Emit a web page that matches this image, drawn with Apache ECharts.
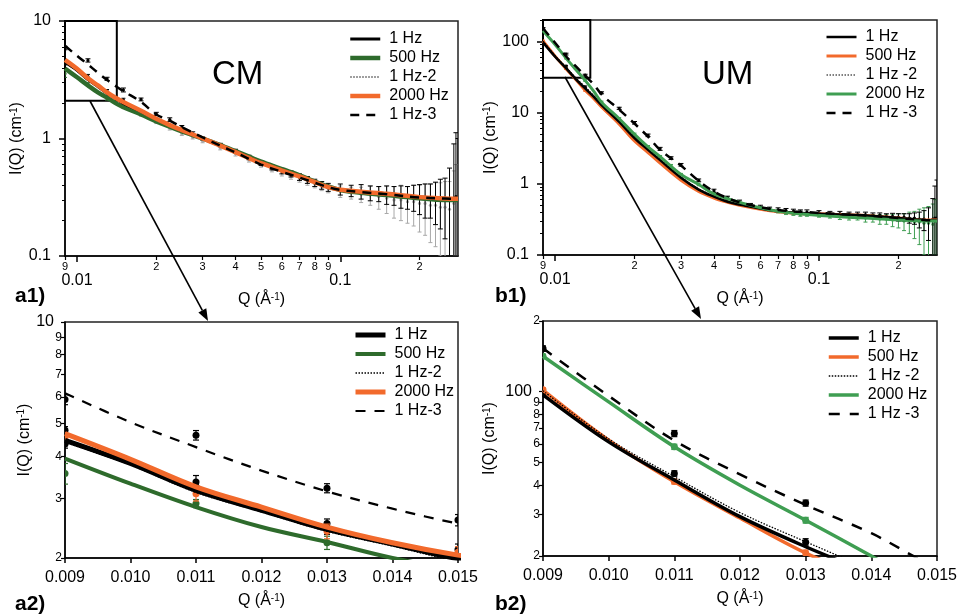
<!DOCTYPE html>
<html><head><meta charset="utf-8">
<script src="https://cdn.jsdelivr.net/npm/echarts@6/dist/echarts.min.js"></script>
<style>html,body{margin:0;padding:0;background:#fff}#c{width:959px;height:615px}</style>
</head><body><div id="c"></div>
<script>
// ---------------- DATA ----------------
// Q grid of the fitted curves (1/Å)
const fitQ = [0.009, 0.01, 0.011, 0.012, 0.013, 0.014, 0.015, 0.0175, 0.02, 0.0225, 0.025, 0.03, 0.035, 0.04, 0.045, 0.05, 0.06, 0.07, 0.08, 0.09, 0.1, 0.12, 0.15, 0.2, 0.25, 0.28];
// CM fits
const cmFit1Hz   = [4.46, 3.81, 3.17, 2.77, 2.43, 2.2, 1.99, 1.7, 1.46, 1.3, 1.17, 1.0, 0.875, 0.77, 0.685, 0.62, 0.535, 0.475, 0.425, 0.385, 0.367, 0.352, 0.338, 0.318, 0.31, 0.307];
const cmFit500   = [3.94, 3.32, 2.83, 2.47, 2.23, 2.0, 1.85, 1.6, 1.4, 1.26, 1.15, 1.0, 0.88, 0.78, 0.7, 0.635, 0.55, 0.485, 0.43, 0.39, 0.365, 0.345, 0.33, 0.31, 0.3, 0.3];
const cmFit1Hz2  = [4.40, 3.77, 3.13, 2.74, 2.40, 2.17, 1.96, 1.68, 1.45, 1.29, 1.16, 0.99, 0.87, 0.765, 0.68, 0.615, 0.53, 0.47, 0.42, 0.383, 0.365, 0.35, 0.336, 0.316, 0.308, 0.306];
const cmFit2000  = [4.67, 3.92, 3.25, 2.83, 2.47, 2.22, 2.04, 1.72, 1.47, 1.3, 1.18, 1.0, 0.87, 0.765, 0.68, 0.616, 0.534, 0.475, 0.425, 0.385, 0.366, 0.352, 0.338, 0.317, 0.309, 0.307];
const cmFit1Hz3  = [6.15, 5.05, 4.26, 3.63, 3.15, 2.8, 2.53, 2.05, 1.6, 1.42, 1.25, 1.02, 0.87, 0.76, 0.67, 0.6, 0.52, 0.465, 0.42, 0.385, 0.365, 0.35, 0.335, 0.315, 0.308, 0.305];
// UM fits
const umFit1Hz   = [97, 61.2, 42.1, 29.4, 21.9, 16.8, 12.8, 7.4, 4.4, 3.0, 2.15, 1.22, 0.83, 0.66, 0.56, 0.51, 0.45, 0.41, 0.395, 0.385, 0.38, 0.37, 0.36, 0.33, 0.31, 0.305];
const umFit500   = [101.5, 62.2, 41.4, 29.0, 20.6, 15.8, 12.0, 6.9, 4.0, 2.75, 1.95, 1.12, 0.78, 0.63, 0.55, 0.5, 0.44, 0.405, 0.39, 0.38, 0.38, 0.37, 0.36, 0.33, 0.31, 0.31];
const umFit1Hz2  = [101, 63, 43.5, 30.6, 23, 17.5, 13.5, 7.8, 4.6, 3.1, 2.22, 1.25, 0.85, 0.67, 0.57, 0.51, 0.45, 0.41, 0.395, 0.385, 0.38, 0.37, 0.36, 0.33, 0.31, 0.305];
const umFit2000  = [141.6, 90.5, 58.3, 40, 28.4, 20, 14, 8.2, 4.95, 3.3, 2.4, 1.35, 0.98, 0.72, 0.62, 0.55, 0.46, 0.41, 0.385, 0.37, 0.36, 0.345, 0.33, 0.31, 0.3, 0.3];
const umFit1Hz3  = [153, 96, 62, 44.5, 33, 25, 18, 11, 7.0, 4.6, 3.0, 1.8, 1.1, 0.78, 0.63, 0.55, 0.47, 0.43, 0.41, 0.4, 0.39, 0.375, 0.36, 0.33, 0.31, 0.305];

// measured points (full range) Q grid
const dataQ = [0.009, 0.011, 0.013, 0.015, 0.0175, 0.02, 0.0225, 0.025, 0.0275, 0.03, 0.035, 0.04, 0.045, 0.05, 0.055, 0.06, 0.065, 0.07, 0.075, 0.08, 0.085, 0.09, 0.1, 0.11, 0.12, 0.13, 0.14, 0.15, 0.16, 0.17, 0.18, 0.19, 0.2, 0.21, 0.22, 0.23, 0.24, 0.25, 0.26, 0.27, 0.275, 0.28];
const cmPts1Hz3  = [5.89, 4.62, 3.22, 2.59, 2.15, 1.62, 1.45, 1.25, 1.1, 1.0, 0.88, 0.78, 0.69, 0.62, 0.57, 0.53, 0.5, 0.47, 0.445, 0.42, 0.4, 0.385, 0.37, 0.36, 0.355, 0.345, 0.34, 0.335, 0.33, 0.325, 0.32, 0.32, 0.315, 0.31, 0.31, 0.305, 0.31, 0.3, 0.31, 0.3, 0.32, 0.3];
const cmErr1Hz3  = [0.2, 0.15, 0.1, 0.1, 0.06, 0.05, 0.05, 0.04, 0.04, 0.03, 0.03, 0.03, 0.03, 0.03, 0.03, 0.03, 0.03, 0.03, 0.03, 0.03, 0.03, 0.03, 0.04, 0.04, 0.05, 0.05, 0.05, 0.06, 0.06, 0.07, 0.07, 0.08, 0.09, 0.1, 0.1, 0.12, 0.14, 0.16, 0.25, 0.6, 0.8, 0.7];
const umPts1Hz3  = [152.7, 66.4, 33.6, 19, 11.5, 7.2, 4.8, 3.1, 2.3, 1.85, 1.12, 0.8, 0.64, 0.56, 0.5, 0.47, 0.44, 0.43, 0.42, 0.41, 0.4, 0.4, 0.39, 0.38, 0.38, 0.37, 0.37, 0.37, 0.36, 0.36, 0.35, 0.35, 0.34, 0.34, 0.33, 0.33, 0.32, 0.32, 0.31, 0.32, 0.33, 0.33];
const umErr1Hz3  = [4, 2, 1, 0.6, 0.4, 0.3, 0.2, 0.15, 0.1, 0.08, 0.05, 0.04, 0.03, 0.03, 0.03, 0.03, 0.03, 0.03, 0.03, 0.03, 0.03, 0.03, 0.03, 0.03, 0.03, 0.03, 0.03, 0.03, 0.03, 0.03, 0.03, 0.035, 0.04, 0.04, 0.05, 0.06, 0.08, 0.1, 0.15, 0.3, 0.6, 0.8];
const umPts2000  = [141.6, 58.3, 28.4, 14, 8.2, 4.95, 3.3, 2.4, 1.8, 1.35, 0.98, 0.72, 0.62, 0.55, 0.5, 0.46, 0.43, 0.41, 0.39, 0.38, 0.37, 0.37, 0.36, 0.35, 0.345, 0.34, 0.34, 0.33, 0.33, 0.32, 0.32, 0.31, 0.31, 0.3, 0.3, 0.29, 0.29, 0.28, 0.28, 0.27, 0.3, 0.3];
const umErr2000  = [3, 1.5, 0.8, 0.5, 0.3, 0.2, 0.15, 0.1, 0.07, 0.05, 0.04, 0.03, 0.03, 0.02, 0.02, 0.02, 0.02, 0.02, 0.02, 0.02, 0.02, 0.02, 0.02, 0.02, 0.03, 0.03, 0.03, 0.04, 0.04, 0.05, 0.05, 0.06, 0.07, 0.08, 0.1, 0.12, 0.15, 0.18, 0.2, 0.25, 0.3, 0.3];
// measured points CM "grey" set (high Q)
const hiQ = [0.0175, 0.02, 0.0225, 0.025, 0.0275, 0.03, 0.035, 0.04, 0.045, 0.05, 0.055, 0.06, 0.065, 0.07, 0.075, 0.08, 0.085, 0.09, 0.1, 0.11, 0.12, 0.13, 0.14, 0.15, 0.16, 0.17, 0.18, 0.19, 0.2, 0.21, 0.22, 0.23, 0.24, 0.25, 0.26, 0.27, 0.275, 0.28];
const cmPtsGrey  = [1.6, 1.38, 1.22, 1.1, 1.02, 0.95, 0.83, 0.74, 0.66, 0.6, 0.55, 0.51, 0.48, 0.455, 0.43, 0.41, 0.39, 0.375, 0.355, 0.345, 0.335, 0.33, 0.32, 0.31, 0.3, 0.3, 0.29, 0.29, 0.28, 0.28, 0.27, 0.27, 0.26, 0.26, 0.25, 0.28, 0.3, 0.3];
const cmErrGrey  = [0.05, 0.04, 0.04, 0.04, 0.03, 0.03, 0.03, 0.03, 0.03, 0.03, 0.03, 0.03, 0.03, 0.03, 0.03, 0.03, 0.03, 0.03, 0.04, 0.04, 0.05, 0.06, 0.07, 0.08, 0.09, 0.1, 0.1, 0.11, 0.12, 0.13, 0.14, 0.15, 0.16, 0.17, 0.18, 0.25, 0.3, 0.3];
// measured points at low Q
const lowQ = [0.009, 0.011, 0.013, 0.015];
const cmPts1Hz   = [4.35, 3.36, 2.53, 2.12];  const cmErr1Hz   = [0.12, 0.15, 0.08, 0.08];
const cmPts1Hz2  = [4.78, 3.25, 2.45, 2.05];  const cmErr1Hz2  = [0.12, 0.1, 0.1, 0.08];
const cmPts500   = [3.56, 2.9, 2.22, 1.9];    const cmErr500   = [0.25, 0.08, 0.1, 0.08];
const cmPts2000  = [4.55, 3.1, 2.4, 2.08];    const cmErr2000  = [0.15, 0.15, 0.12, 0.08];
const lowQ3 = [0.009, 0.011, 0.013];
const umPts1Hz   = [97, 44.9, 22.9];          const umErr1Hz   = [2, 1.2, 0.8];
const umPts500   = [102, 41.5, 20.6];         const umErr500   = [2, 1, 0.6];

// legends & ticks
const cmNames = ['1 Hz', '500 Hz', '1 Hz-2', '2000 Hz', '1 Hz-3'];
const umNames = ['1 Hz', '500 Hz', '1 Hz -2', '2000 Hz', '1 Hz -3'];
const xTopMinor = [0.009, 0.02, 0.03, 0.04, 0.05, 0.06, 0.07, 0.08, 0.09, 0.2];
const xTopMajor = [0.01, 0.1];
const yA1Major = [0.1, 1, 10];
const yB1Major = [0.1, 1, 10, 100];
const minorDec = [2, 3, 4, 5, 6, 7, 8, 9];
const yA2Ticks = [2, 3, 4, 5, 6, 7, 8, 9, 10];
const yB2Ticks = [20, 30, 40, 50, 60, 70, 80, 90, 100, 200];

// ---------------- STYLE ----------------
const FONT = '"Liberation Sans", Arial, sans-serif';
const BLACK = '#000000', GREEN_A = '#2e6b2c', ORANGE = '#f26a2c', GREEN_B = '#3f9e52', GREY = '#a8a8a8';

const chart = echarts.init(document.getElementById('c'), null, {renderer: 'canvas'});

const grids = [
  {left: 65, top: 21, width: 393, height: 235},
  {left: 543, top: 20, width: 394, height: 235},
  {left: 65, top: 322, width: 393, height: 236},
  {left: 543, top: 321, width: 394, height: 235}
].map(g => Object.assign({show: true, borderColor: '#222', borderWidth: 1.5, backgroundColor: 'transparent', containLabel: false, outerBoundsMode: 'none'}, g));

const mant = v => { const e = Math.floor(Math.log10(v) + 1e-9); return String(Math.round(v / Math.pow(10, e))); };
const fmtNum = v => String(+(+v).toPrecision(3));
const axLine = {show: true, onZero: false, lineStyle: {color: '#000', width: 1.5}};
const nameRich = {
  n: {fontSize: 16, fontFamily: FONT, color: '#000'},
  s: {fontSize: 10, fontFamily: FONT, color: '#000', verticalAlign: 'top', padding: [0, 0, 6, 0]}
};
const qName = '{n|Q (Å}{s|-1}{n|)}';
const iName = '{n|I(Q) (cm}{s|-1}{n|)}';

function topX(grid) {
  return [
    { type: 'log', gridIndex: grid, position: 'bottom', min: 0.009, max: 0.28, logBase: 10,
      axisLine: axLine, splitLine: {show: false},
      axisTick: {show: true, length: 4, customValues: xTopMinor, lineStyle: {color: '#000', width: 1.2}},
      axisLabel: {customValues: xTopMinor, formatter: mant, fontSize: 11, fontFamily: FONT, color: '#000', margin: 5} },
    { type: 'log', gridIndex: grid, position: 'bottom', min: 0.009, max: 0.28, logBase: 10,
      axisLine: {show: false}, splitLine: {show: false},
      axisTick: {show: true, length: 6, customValues: xTopMajor, lineStyle: {color: '#000', width: 1.5}},
      axisLabel: {customValues: xTopMajor, formatter: fmtNum, fontSize: 16, fontFamily: FONT, color: '#000', margin: 17},
      name: qName, nameLocation: 'middle', nameGap: 36, nameTextStyle: {rich: nameRich} }
  ];
}
function topY(grid, min, max, major, minor, gap) {
  return [
    { type: 'log', gridIndex: grid, position: 'left', min, max, logBase: 10,
      axisLine: axLine, splitLine: {show: false},
      axisTick: {show: true, length: 6, customValues: major, lineStyle: {color: '#000', width: 1.5}},
      axisLabel: {customValues: major, formatter: fmtNum, fontSize: 16, fontFamily: FONT, color: '#000', margin: 14},
      name: iName, nameLocation: 'middle', nameGap: gap, nameRotate: 90, nameTextStyle: {rich: nameRich} },
    { type: 'log', gridIndex: grid, position: 'left', min, max, logBase: 10,
      axisLine: {show: false}, splitLine: {show: false}, axisLabel: {show: false},
      axisTick: {show: true, length: 3, customValues: minor, lineStyle: {color: '#000', width: 1}} }
  ];
}
const minorA1 = [].concat(minorDec.map(d => d / 10), minorDec);
const minorB1 = [].concat(minorDec.map(d => d / 10), minorDec, minorDec.map(d => d * 10), [200]);

const zoomX = grid => ({
  type: 'value', gridIndex: grid, position: 'bottom', min: 0.009, max: 0.015, interval: 0.001,
  axisLine: axLine, splitLine: {show: false},
  axisTick: {show: true, length: 5, lineStyle: {color: '#000', width: 1.5}},
  axisLabel: {formatter: v => (+v).toFixed(3), fontSize: 16, fontFamily: FONT, color: '#000', margin: 12, showMinLabel: true, showMaxLabel: true},
  name: qName, nameLocation: 'middle', nameGap: 35, nameTextStyle: {rich: nameRich}
});
const zoomRich = {
  b: {fontSize: 16, fontFamily: FONT, color: '#000', padding: [0, 8, 0, 0]},
  s: {fontSize: 12, fontFamily: FONT, color: '#000'}
};
const zoomY = (grid, min, max, ticks, fmt, gap) => ({
  type: 'log', gridIndex: grid, position: 'left', min, max, logBase: 10,
  axisLine: axLine, splitLine: {show: false},
  axisTick: {show: true, length: 4, customValues: ticks, lineStyle: {color: '#000', width: 1.2}},
  axisLabel: {customValues: ticks, formatter: fmt, margin: 3, rich: zoomRich},
  name: iName, nameLocation: 'middle', nameGap: gap, nameRotate: 90, nameTextStyle: {rich: nameRich}
});

const xAxis = [].concat(topX(0), topX(1), [zoomX(2), zoomX(3)]);
const yAxis = [].concat(
  topY(0, 0.1, 10, yA1Major, minorA1, 36),
  topY(1, 0.1, 200, yB1Major, minorB1, 43),
  [zoomY(2, 2, 10, yA2Ticks, v => +v >= 10 ? '{b|10}' : '{s|' + Math.round(v) + '}', 22),
   zoomY(3, 20, 200, yB2Ticks, v => Math.round(v) === 100 ? '{b|100}' : '{s|' + mant(v) + '}', 45)]
);

// panel -> axis indices
const P = {a1: {x: 0, y: 0}, b1: {x: 2, y: 2}, a2: {x: 4, y: 4}, b2: {x: 5, y: 5}};
const pairs = (q, v) => q.map((x, i) => [x, v[i]]);
const triples = (q, v, e) => q.map((x, i) => [x, v[i], e[i]]);

function fit(panel, name, vals, color, width, type, z) {
  return {
    type: 'line', name: panel + '|' + name, xAxisIndex: P[panel].x, yAxisIndex: P[panel].y,
    data: pairs(fitQ, vals), smooth: 0.35, symbol: 'none', clip: true, z: z || 3,
    lineStyle: {color, width, type: type || 'solid', cap: 'butt'}, itemStyle: {color},
    emphasis: {disabled: true}, animation: false
  };
}
function pts(panel, q, vals, errs, color, r, cap, lw) {
  return {
    type: 'custom', xAxisIndex: P[panel].x, yAxisIndex: P[panel].y, clip: true, z: 2, silent: true,
    data: triples(q, vals, errs), encode: {x: 0, y: 1}, animation: false,
    renderItem: function (params, api) {
      const x = api.value(0), y = api.value(1), e = api.value(2);
      const lo = Math.max(y - e, y * 0.05);
      const p = api.coord([x, y]), ph = api.coord([x, y + e]), pl = api.coord([x, lo]);
      const st = {stroke: color, lineWidth: lw};
      return {type: 'group', children: [
        {type: 'line', shape: {x1: p[0], y1: ph[1], x2: p[0], y2: pl[1]}, style: st},
        {type: 'line', shape: {x1: p[0] - cap, y1: ph[1], x2: p[0] + cap, y2: ph[1]}, style: st},
        {type: 'line', shape: {x1: p[0] - cap, y1: pl[1], x2: p[0] + cap, y2: pl[1]}, style: st},
        {type: 'circle', shape: {cx: p[0], cy: p[1], r}, style: {fill: color}}
      ]};
    }
  };
}

const series = [];
// ---- CM top (a1)
series.push(pts('a1', hiQ, cmPtsGrey, cmErrGrey, GREY, 1.6, 2, 1));
series.push(pts('a1', dataQ, cmPts1Hz3, cmErr1Hz3, BLACK, 1.6, 2.5, 1));
series.push(pts('a1', lowQ, cmPts500, cmErr500, GREEN_A, 1.6, 2, 1));
series.push(pts('a1', lowQ, cmPts1Hz, cmErr1Hz, BLACK, 1.6, 2, 1));
series.push(fit('a1', '500 Hz', cmFit500, GREEN_A, 4.5));
series.push(fit('a1', '1 Hz-2', cmFit1Hz2, BLACK, 1.2, [1.5, 1.5]));
series.push(fit('a1', '1 Hz', cmFit1Hz, BLACK, 3));
series.push(fit('a1', '2000 Hz', cmFit2000, ORANGE, 4.5));
series.push(fit('a1', '1 Hz-3', cmFit1Hz3, BLACK, 2.5, [9, 7], 4));
series.push({
  type: 'line', xAxisIndex: 0, yAxisIndex: 0, data: [], silent: true,
  markArea: {silent: true, itemStyle: {color: 'rgba(0,0,0,0)', borderColor: '#000', borderWidth: 2},
    data: [[{coord: [0.009, 10]}, {coord: [0.01416, 2.1]}]]}
});
// ---- CM zoom (a2)
series.push(pts('a2', dataQ, cmPts1Hz3, cmErr1Hz3, BLACK, 3.5, 3, 1.2));
series.push(pts('a2', lowQ, cmPts500, cmErr500, GREEN_A, 3.5, 3, 1.2));
series.push(pts('a2', lowQ, cmPts1Hz2, cmErr1Hz2, BLACK, 3.5, 3, 1.2));
series.push(pts('a2', lowQ, cmPts1Hz, cmErr1Hz, BLACK, 3.5, 3, 1.2));
series.push(pts('a2', lowQ, cmPts2000, cmErr2000, ORANGE, 3.5, 3, 1.2));
series.push(fit('a2', '500 Hz', cmFit500, GREEN_A, 4));
series.push(fit('a2', '1 Hz-2', cmFit1Hz2, BLACK, 1.3, [1.5, 1.5]));
series.push(fit('a2', '1 Hz', cmFit1Hz, BLACK, 5));
series.push(fit('a2', '2000 Hz', cmFit2000, ORANGE, 5));
series.push(fit('a2', '1 Hz-3', cmFit1Hz3, BLACK, 2.2, [10, 9], 4));
// ---- UM top (b1)
series.push(pts('b1', dataQ, umPts2000, umErr2000, GREEN_B, 1.6, 2, 1));
series.push(pts('b1', dataQ, umPts1Hz3, umErr1Hz3, BLACK, 1.6, 2.5, 1));
series.push(pts('b1', lowQ3, umPts500, umErr500, ORANGE, 1.6, 2, 1));
series.push(pts('b1', lowQ3, umPts1Hz, umErr1Hz, BLACK, 1.6, 2, 1));
series.push(fit('b1', '500 Hz', umFit500, ORANGE, 3));
series.push(fit('b1', '1 Hz', umFit1Hz, BLACK, 2.5));
series.push(fit('b1', '1 Hz -2', umFit1Hz2, BLACK, 1.2, [1.5, 1.5]));
series.push(fit('b1', '2000 Hz', umFit2000, GREEN_B, 3));
series.push(fit('b1', '1 Hz -3', umFit1Hz3, BLACK, 2.5, [9, 7], 4));
series.push({
  type: 'line', xAxisIndex: 2, yAxisIndex: 2, data: [], silent: true,
  markArea: {silent: true, itemStyle: {color: 'rgba(0,0,0,0)', borderColor: '#000', borderWidth: 2},
    data: [[{coord: [0.009, 200]}, {coord: [0.0136, 31]}]]}
});
// ---- UM zoom (b2)
series.push(pts('b2', dataQ, umPts1Hz3, umErr1Hz3, BLACK, 3.5, 3, 1.2));
series.push(pts('b2', dataQ, umPts2000, umErr2000, GREEN_B, 3.5, 3, 1.2));
series.push(pts('b2', lowQ3, umPts500, umErr500, ORANGE, 3.5, 3, 1.2));
series.push(pts('b2', lowQ3, umPts1Hz, umErr1Hz, BLACK, 3.5, 3, 1.2));
series.push(fit('b2', '500 Hz', umFit500, ORANGE, 3.5));
series.push(fit('b2', '1 Hz', umFit1Hz, BLACK, 3.5));
series.push(fit('b2', '1 Hz -2', umFit1Hz2, BLACK, 1.3, [1.5, 1.5]));
series.push(fit('b2', '2000 Hz', umFit2000, GREEN_B, 3.5));
series.push(fit('b2', '1 Hz -3', umFit1Hz3, BLACK, 2.5, [11, 10], 4));

function legend(panel, names, left, top) {
  return {
    orient: 'vertical', left, top, itemWidth: 30, itemHeight: 14, itemGap: 3, padding: 0,
    selectedMode: false,
    data: names.map(n => panel + '|' + n),
    formatter: n => n.split('|')[1],
    textStyle: {fontSize: 16, fontFamily: FONT, color: '#000', padding: [0, 0, 0, 4]},
    itemStyle: {color: 'rgba(0,0,0,0)', borderWidth: 0, opacity: 0},
    lineStyle: {width: 'inherit'}
  };
}

function arrow(x1, y1, x2, y2) {
  const a = Math.atan2(y2 - y1, x2 - x1), L = 12, W = 4.5;
  const bx = x2 - L * Math.cos(a), by = y2 - L * Math.sin(a);
  const px = -Math.sin(a) * W, py = Math.cos(a) * W;
  return [
    {type: 'line', shape: {x1, y1, x2: bx, y2: by}, style: {stroke: '#000', lineWidth: 1.6}, z: 100},
    {type: 'polygon', shape: {points: [[x2, y2], [bx + px, by + py], [bx - px, by - py]]}, style: {fill: '#000'}, z: 100}
  ];
}
const txt = (text, left, top, font) => ({type: 'text', left, top, z: 100, style: {text, font, fill: '#000'}});

chart.setOption({
  backgroundColor: '#fff',
  animation: false,
  grid: grids,
  xAxis, yAxis,
  legend: [
    legend('a1', cmNames, 348, 31),
    legend('b1', umNames, 825, 29),
    legend('a2', cmNames, 353, 327),
    legend('b2', umNames, 827, 330)
  ],
  series,
  graphic: [].concat(
    arrow(90, 101, 208, 321),
    arrow(565, 77, 701, 319),
    [txt('CM', 212, 58, '33px ' + FONT), txt('UM', 702, 58, '33px ' + FONT),
     txt('a1)', 15, 286, 'bold 21px ' + FONT), txt('b1)', 495, 286, 'bold 21px ' + FONT),
     txt('a2)', 15, 594, 'bold 21px ' + FONT), txt('b2)', 495, 594, 'bold 21px ' + FONT)]
  )
});
</script></body></html>
